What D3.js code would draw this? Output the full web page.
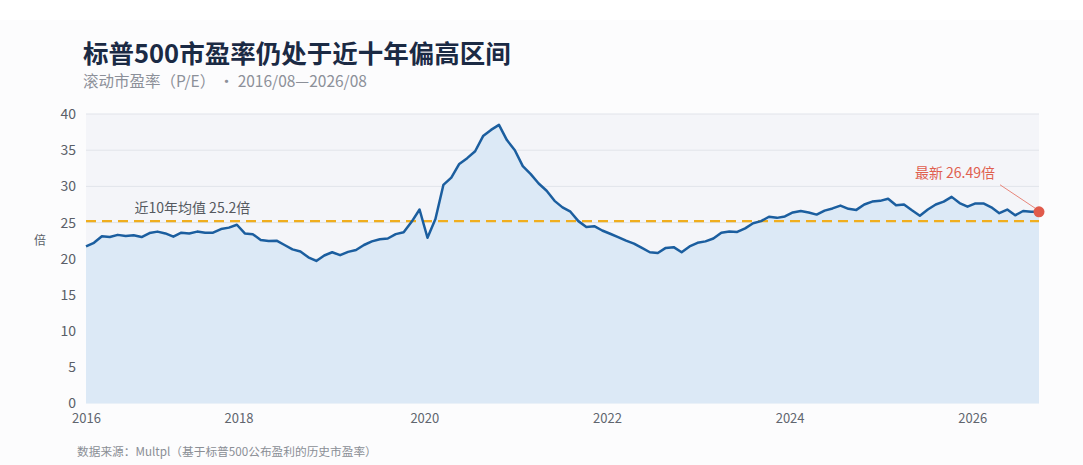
<!DOCTYPE html>
<html>
<head>
<meta charset="utf-8">
<script src="https://cdn.jsdelivr.net/npm/d3@7"></script>
<style>
  html, body { margin: 0; padding: 0; background: #ffffff; }
  svg { display: block; font-family: "Noto Sans CJK SC", "Noto Sans", sans-serif; }
</style>
</head>
<body>
<svg id="chart" width="1083" height="465"></svg>
<script>
// ---- data (monthly, 2016/08 — 2026/08) ----
const startMonth = "2016/08";
const peValues = [
  21.7, 22.2, 23.1, 23.0, 23.3, 23.15, 23.25, 23.0, 23.55, 23.75,
  23.5, 23.05, 23.6, 23.5, 23.75, 23.6, 23.6, 24.1, 24.3, 24.7,
  23.5, 23.4, 22.6, 22.45, 22.5, 21.9, 21.3, 21.0, 20.2, 19.7,
  20.45, 20.9, 20.5, 20.95, 21.2, 21.9, 22.4, 22.7, 22.8, 23.4,
  23.65, 25.1, 26.8, 22.9, 25.5, 30.2, 31.2, 33.1, 33.9, 34.85,
  36.95, 37.8, 38.5, 36.4, 35.0, 32.8, 31.7, 30.4, 29.4, 28.0,
  27.1, 26.5, 25.2, 24.4, 24.5, 23.9, 23.45, 23.0, 22.5, 22.1,
  21.5, 20.9, 20.8, 21.5, 21.6, 20.9, 21.7, 22.2, 22.4, 22.8,
  23.6, 23.75, 23.7, 24.2, 24.9, 25.2, 25.8, 25.65, 25.85, 26.4,
  26.6, 26.4, 26.1, 26.65, 26.95, 27.35, 26.9, 26.75, 27.5, 27.9,
  28.0, 28.3, 27.4, 27.5, 26.7, 25.95, 26.8, 27.5, 27.9, 28.55,
  27.7, 27.2, 27.65, 27.65, 27.1, 26.3, 26.8, 26.0, 26.6, 26.5,
  26.49
];
const avgValue = 25.2;
const latestValue = 26.49;
const yTicks = [0, 5, 10, 15, 20, 25, 30, 35, 40];
const xTickIndex = [0, 19.2, 42.6, 65.6, 88.6, 111.6];
const xTickLabels = ["2016", "2018", "2020", "2022", "2024", "2026"];

const titleText = "标普500市盈率仍处于近十年偏高区间";
const subtitleText = "滚动市盈率（P/E） · 2016/08—2026/08";
const avgLabel = "近10年均值 25.2倍";
const latestLabel = "最新 26.49倍";
const yUnit = "倍";
const sourceText = "数据来源：Multpl（基于标普500公布盈利的历史市盈率）";

// ---- layout ----
const svg = d3.select("#chart");
const W = 1083, H = 465;
const plot = { left: 86, right: 1039, top: 114, bottom: 403.5 };

const data = peValues.map((v, i) => ({ i, v }));
const x = d3.scaleLinear().domain([0, peValues.length - 1]).range([plot.left, plot.right]);
const y = d3.scaleLinear().domain([0, 40]).range([plot.bottom, plot.top]);

// faint card
svg.append("rect").attr("x", 0).attr("y", 0).attr("width", W).attr("height", H).attr("fill", "#ffffff");
svg.append("rect").attr("x", 0).attr("y", 20).attr("width", W).attr("height", H - 20)
  .attr("fill", "#fcfcfd");

// plot background
svg.append("rect")
  .attr("x", plot.left).attr("y", plot.top)
  .attr("width", plot.right - plot.left).attr("height", plot.bottom - plot.top)
  .attr("fill", "#f4f5f9");

// gridlines
svg.append("g").selectAll("line").data(yTicks.filter(t => t > 0)).join("line")
  .attr("x1", plot.left).attr("x2", plot.right)
  .attr("y1", d => y(d)).attr("y2", d => y(d))
  .attr("stroke", "#e1e4ea").attr("stroke-width", 1);

// area
svg.append("path").datum(data)
  .attr("d", d3.area().x(d => x(d.i)).y0(y(0)).y1(d => y(d.v)))
  .attr("fill", "#dce9f6");

// average dashed line
svg.append("line")
  .attr("x1", plot.left).attr("x2", plot.right)
  .attr("y1", y(avgValue)).attr("y2", y(avgValue))
  .attr("stroke", "#f0ae1e").attr("stroke-width", 2.2)
  .attr("stroke-dasharray", "10,6");

// line
svg.append("path").datum(data)
  .attr("d", d3.line().x(d => x(d.i)).y(d => y(d.v)))
  .attr("fill", "none").attr("stroke", "#1b5e9f").attr("stroke-width", 2.5)
  .attr("stroke-linejoin", "round");

// y axis
const yAxis = d3.axisLeft(y).tickValues(yTicks).tickSize(0).tickPadding(10);
const gy = svg.append("g").attr("transform", `translate(${plot.left},0)`).call(yAxis);
gy.select(".domain").remove();
gy.selectAll("text").attr("font-size", 14).attr("fill", "#5a5f68")
  .attr("font-family", "'Noto Sans CJK SC', 'Noto Sans', sans-serif");

// x axis
const xAxis = d3.axisBottom(x).tickValues(xTickIndex)
  .tickFormat((d, k) => xTickLabels[k]).tickSize(0).tickPadding(10);
const gx = svg.append("g").attr("transform", `translate(0,${plot.bottom})`).call(xAxis);
gx.select(".domain").remove();
gx.selectAll("text").attr("font-size", 13).attr("fill", "#60656e")
  .attr("font-family", "'Noto Sans CJK SC', 'Noto Sans', sans-serif");

// y unit
svg.append("text").attr("x", 40).attr("y", y(22.3)).attr("text-anchor", "middle")
  .attr("dominant-baseline", "middle")
  .attr("font-size", 12).attr("fill", "#5a5f68").text(yUnit);

// average label
svg.append("text").attr("x", x(6.1)).attr("y", y(avgValue) - 8)
  .attr("font-size", 14).attr("fill", "#55595f").text(avgLabel);

// latest annotation
const last = data[data.length - 1];
svg.append("line")
  .attr("x1", x(last.i) - 39).attr("y1", y(last.v) - 27)
  .attr("x2", x(last.i) - 3).attr("y2", y(last.v) - 3)
  .attr("stroke", "#e8867b").attr("stroke-width", 1);
svg.append("circle").attr("cx", x(last.i)).attr("cy", y(latestValue)).attr("r", 5.5)
  .attr("fill", "#e05a4b");
svg.append("text").attr("x", x(last.i) - 44).attr("y", y(last.v) - 34)
  .attr("text-anchor", "end")
  .attr("font-size", 14).attr("fill", "#e0604f").text(latestLabel);

// titles
svg.append("text").attr("x", 83).attr("y", 63)
  .attr("font-size", 25.5).attr("font-weight", 700).attr("fill", "#1b2a44").text(titleText);
svg.append("text").attr("x", 83).attr("y", 87)
  .attr("font-size", 15.5).attr("fill", "#8c9099").text(subtitleText);

// source
svg.append("text").attr("x", 77).attr("y", 456)
  .attr("font-size", 11.7).attr("fill", "#8a8e95").text(sourceText);
</script>
</body>
</html>
